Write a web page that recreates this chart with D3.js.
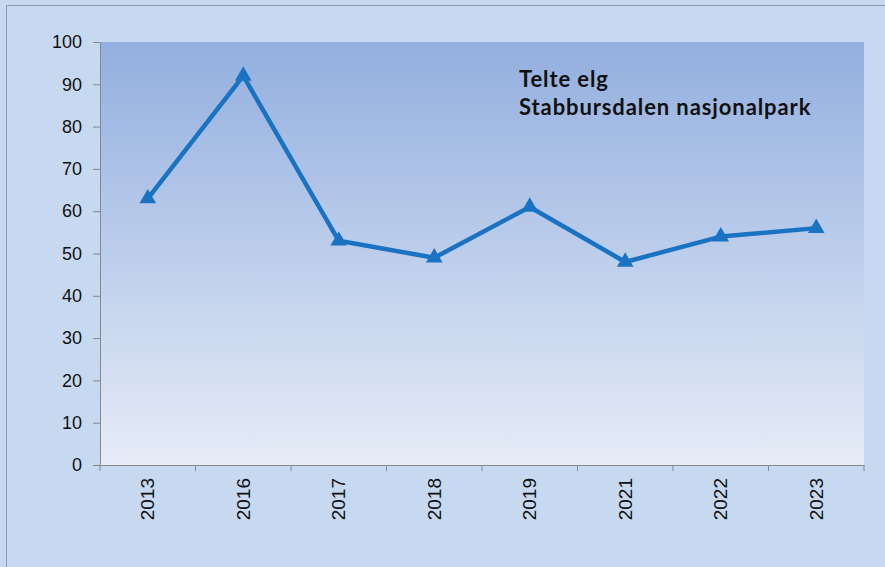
<!DOCTYPE html>
<html><head><meta charset="utf-8">
<script src="https://cdn.jsdelivr.net/npm/d3@7"></script>
<style>html,body{margin:0;padding:0;background:#fff;}svg{display:block;}</style>
</head><body>
<svg id="c" width="885" height="567"></svg>
<script>
const years = ["2013","2016","2017","2018","2019","2021","2022","2023"];
const counts = [63, 92, 53, 49, 61, 48, 54, 56];
const yTicks = [0,10,20,30,40,50,60,70,80,90,100];
const titleLines = ["Telte elg", "Stabbursdalen nasjonalpark"];

const svg = d3.select("#c");
const W = 885, H = 567;
const m = {left:100, right:21, top:42, bottom:102};
const pw = W - m.left - m.right, ph = H - m.top - m.bottom;

const defs = svg.append("defs");
const g1 = defs.append("linearGradient").attr("id","pg").attr("x1",0).attr("y1",0).attr("x2",0).attr("y2",1);
g1.append("stop").attr("offset","0%").attr("stop-color","#93afdf");
g1.append("stop").attr("offset","100%").attr("stop-color","#e6ecf7");

svg.append("rect").attr("x",0).attr("y",0).attr("width",W).attr("height",H).attr("fill","#c6d9f1");
svg.append("rect").attr("x",6.5).attr("y",5.5).attr("width",W+10).attr("height",H+10)
  .attr("fill","none").attr("stroke","#8c9bb0").attr("stroke-width",1);

const x = d3.scaleBand().domain(years).range([m.left, m.left+pw]);
const y = d3.scaleLinear().domain([0,100]).range([m.top+ph, m.top]);

svg.append("rect").attr("x",m.left).attr("y",m.top).attr("width",pw).attr("height",ph).attr("fill","url(#pg)");

const yAxis = svg.append("g").attr("transform",`translate(${m.left},0)`)
  .call(d3.axisLeft(y).tickValues(yTicks).tickSize(7).tickSizeOuter(0).tickPadding(11));
yAxis.select(".domain").attr("stroke","#888");
yAxis.selectAll(".tick line").attr("stroke","#888");
yAxis.selectAll("text").attr("font-family","Liberation Sans, Arial, sans-serif").attr("font-size",18).attr("fill","#111");

const xAxis = svg.append("g").attr("transform",`translate(0,${m.top+ph})`)
  .call(d3.axisBottom(x).tickSize(0).tickSizeOuter(0));
xAxis.select(".domain").attr("stroke","#888");
xAxis.selectAll("text")
  .attr("font-family","Liberation Sans, Arial, sans-serif").attr("font-size",19).attr("fill","#111")
  .attr("transform","rotate(-90)").attr("text-anchor","end").attr("dy","0.35em").attr("x",-13).attr("y",0);
// tick marks at category boundaries
const bounds = years.map(d => x(d)).concat([m.left+pw]);
svg.append("g").selectAll("line").data(bounds).join("line")
  .attr("x1",d=>d).attr("x2",d=>d).attr("y1",m.top+ph).attr("y2",m.top+ph+6)
  .attr("stroke","#888");

const cx = d => x(d) + x.bandwidth()/2;
const data = years.map((yr,i)=>({yr, v:counts[i]}));
const line = d3.line().x(d=>cx(d.yr)).y(d=>y(d.v));
svg.append("path").datum(data).attr("d",line).attr("fill","none")
  .attr("stroke","#1a73c2").attr("stroke-width",4.5).attr("stroke-linejoin","round");
svg.append("g").selectAll("path").data(data).join("path")
  .attr("d", d3.symbol().type(d3.symbolTriangle).size(120))
  .attr("transform", d=>`translate(${cx(d.yr)},${y(d.v)})`)
  .attr("fill","#1a73c2");

const t = svg.append("text").attr("x",519).attr("y",87)
  .attr("font-family","Lato, 'Open Sans', sans-serif").attr("font-weight","bold").attr("font-size",22)
  .attr("letter-spacing",0.9).attr("fill","#111");
titleLines.forEach((s,i)=> t.append("tspan").attr("x",519).attr("dy", i===0?0:28).text(s));
</script>
</body></html>
